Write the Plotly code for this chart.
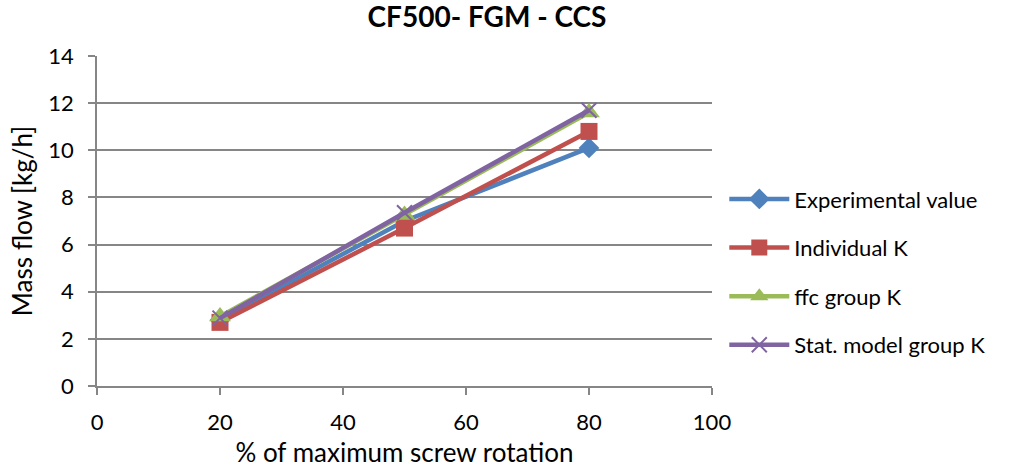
import plotly.graph_objects as go

x_vals = [20, 50, 80]
experimental = [2.8, 7.0, 10.1]
individual_k = [2.7, 6.7, 10.8]
ffc_group_k = [2.95, 7.25, 11.6]
stat_model_k = [2.88, 7.35, 11.7]

series = [
    ("Experimental value", experimental, "#4F81BD", "diamond", 16),
    ("Individual K", individual_k, "#C0504D", "square", 17),
    ("ffc group K", ffc_group_k, "#9BBB59", "triangle-up", 19),
    ("Stat. model group K", stat_model_k, "#8064A2", "x-thin", 15),
]

font_family = "Lato, 'Open Sans', 'DejaVu Sans', sans-serif"

fig = go.Figure()
for i, (name, vals, color, sym, size) in enumerate(series):
    marker = dict(symbol=sym, size=size, color=color)
    if sym == "x-thin":
        marker["line"] = dict(color=color, width=2)
    fig.add_trace(go.Scatter(
        x=x_vals, y=vals, name=name, mode="lines+markers",
        line=dict(color=color, width=4.5),
        marker=marker,
        legendgroup=f"g{i}",
    ))

fig.update_layout(
    width=1019, height=468,
    margin=dict(l=97, r=307, t=56, b=82),
    paper_bgcolor="white", plot_bgcolor="white",
    font=dict(family=font_family, size=22, color="#000000"),
    title=dict(text="<b>CF500- FGM - CCS</b>", x=487/1019, xanchor="center",
               xref="container", y=0.985, yanchor="top", font=dict(size=28)),
    showlegend=True,
    legend=dict(x=1.02, xanchor="left", y=0.345, yanchor="middle",
                tracegroupgap=17, font=dict(size=22), itemwidth=60,
                bgcolor="rgba(0,0,0,0)"),
    xaxis=dict(range=[0, 100], dtick=20, tick0=0, showgrid=False,
               showline=True, linecolor="#868686", linewidth=1.5,
               ticks="outside", ticklen=7, tickcolor="#868686", tickwidth=1.5,
               ticklabelstandoff=9, automargin=False,
               title=dict(text="% of maximum screw rotation", standoff=22),
               zeroline=False),
    yaxis=dict(range=[0, 14], dtick=2, tick0=0, showgrid=True,
               gridcolor="#868686", gridwidth=1.5,
               showline=True, linecolor="#868686", linewidth=1.5,
               ticks="outside", ticklen=7, tickcolor="#868686", tickwidth=1.5,
               ticklabelstandoff=10, automargin=False,
               title=dict(text="Mass flow [kg/h]", standoff=8),
               zeroline=False),
)

fig.write_html("out.html")
